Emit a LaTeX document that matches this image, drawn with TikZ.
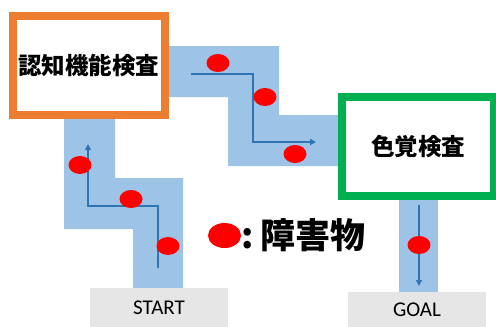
\documentclass[tikz,border=0pt]{standalone}
\usepackage{fontspec}
\setmainfont{Carlito}
\newfontfamily\cjk{Noto Sans CJK JP}
\usetikzlibrary{arrows.meta}
\definecolor{bandblue}{HTML}{9DC3E6}
\definecolor{arrowblue}{HTML}{2E75B6}
\definecolor{boxorange}{HTML}{ED7D31}
\definecolor{boxgreen}{HTML}{00B050}
\definecolor{startgray}{HTML}{E6E6E6}
\tikzset{
  band/.style={fill=bandblue, draw=none},
  testbox/.style={draw=#1, line width=8pt, fill=white, minimum width=152pt, minimum height=99pt, inner sep=0pt, font=\cjk\bfseries\fontsize{23.5}{26}\selectfont},
  endbox/.style={fill=startgray, draw=none, minimum width=138pt, inner sep=0pt, font=\fontsize{21}{24}\selectfont},
  obstacle/.style={ellipse, fill=red, draw=none, minimum width=23pt, minimum height=18pt, inner sep=0pt},
  route/.style={draw=arrowblue, line width=1.6pt, -{Triangle[width=6pt,length=6pt]}}
}
\usetikzlibrary{shapes.geometric}
\begin{document}
\begin{tikzpicture}[x=1pt, y=-1pt]
\useasboundingbox (0,0) rectangle (496,327);
% bands
\fill[band] (64,110) -- (115,110) -- (115,178) -- (183,178) -- (183,290) -- (133,290) -- (133,229) -- (64,229) -- cycle;
\fill[band] (160,46) -- (279,46) -- (279,115) -- (345,115) -- (345,166) -- (228,166) -- (228,97) -- (160,97) -- cycle;
\fill[band] (399,196) rectangle (438,294);
% boxes
\node[testbox=boxorange] (cog) at (89,65.5) {認知機能検査};
\node[testbox=boxgreen] (color) at (418,146.5) {色覚検査};
\node[endbox, minimum height=39pt] (start) at (159,307.5) {START};
\node[endbox, minimum height=35pt] (goal) at (417,309.5) {GOAL};
% routes
\coordinate (s1) at (158,268);
\coordinate (s2) at (158,206);
\coordinate (s3) at (88,206);
\coordinate (s4) at (88,144);
\draw[route] (s1) -- (s2) -- (s3) -- (s4);
\coordinate (t1) at (191,74);
\coordinate (t2) at (253,74);
\coordinate (t3) at (253,142);
\coordinate (t4) at (316,142);
\draw[route] (t1) -- (t2) -- (t3) -- (t4);
\coordinate (g1) at (419,205);
\coordinate (g2) at (419,286);
\draw[route] (g1) -- (g2);
% obstacles
\node[obstacle] (o1) at (80,165) {};
\node[obstacle] (o2) at (131,199) {};
\node[obstacle] (o3) at (168,246) {};
\node[obstacle] (o4) at (218,63) {};
\node[obstacle] (o5) at (265,97) {};
\node[obstacle] (o6) at (295,154) {};
\node[obstacle] (o7) at (419,245) {};
% legend
\node[obstacle, minimum width=33pt, minimum height=25pt] (leg) at (224.5,235.5) {};
\node[anchor=west, inner sep=0pt, font=\cjk\bfseries\fontsize{35}{40}\selectfont] (legtext) at (241,235.5) {:\hspace{7pt}障害物};
\end{tikzpicture}
\end{document}
